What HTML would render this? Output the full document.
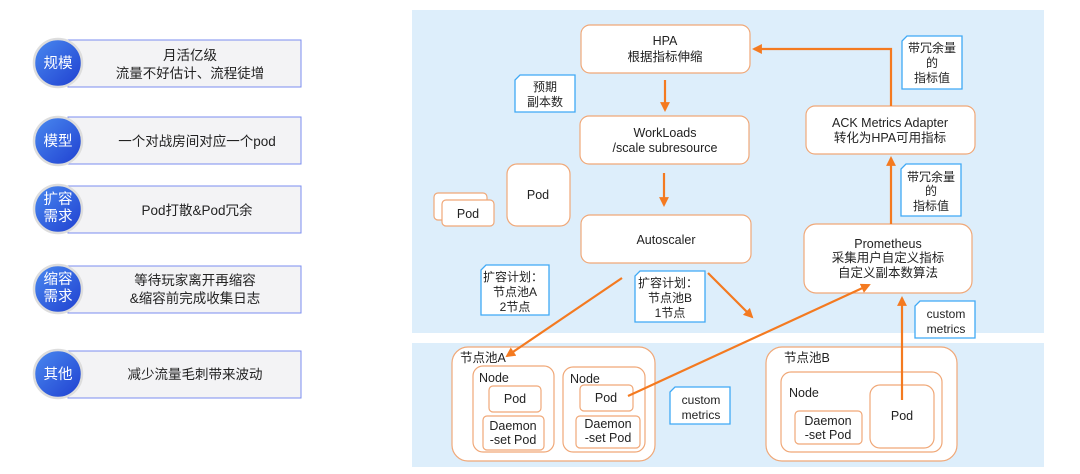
<!DOCTYPE html>
<html><head><meta charset="utf-8"><style>
html,body{margin:0;padding:0;background:#fff;width:1080px;height:474px;overflow:hidden}
svg text{font-family:"Liberation Sans","Noto Sans CJK SC",sans-serif;fill:#222}
</style></head><body>
<svg width="1080" height="474" viewBox="0 0 1080 474" xmlns="http://www.w3.org/2000/svg">
<defs>
<linearGradient id="cg" x1="0" y1="0" x2="1" y2="1"><stop offset="0" stop-color="#4a8af0"/><stop offset="1" stop-color="#1f3fd0"/></linearGradient>
<marker id="ar" viewBox="0 0 10 10" refX="8" refY="5" markerWidth="4.5" markerHeight="4.5" orient="auto"><path d="M0,0 L10,5 L0,10 z" fill="#f47a20"/></marker>
</defs>
<g font-size="13.5" text-anchor="middle">
<rect x="68" y="40" width="233" height="47" fill="#f3f3f5" stroke="#7b8ef0" stroke-width="1"/>
<text x="190" y="60">月活亿级</text><text x="190" y="78">流量不好估计、流程徒增</text>
<rect x="68" y="117" width="233" height="47" fill="#f3f3f5" stroke="#7b8ef0"/>
<text x="197" y="146">一个对战房间对应一个pod</text>
<rect x="68" y="186" width="233" height="47" fill="#f3f3f5" stroke="#7b8ef0"/>
<text x="197" y="215">Pod打散&amp;Pod冗余</text>
<rect x="68" y="266" width="233" height="47" fill="#f3f3f5" stroke="#7b8ef0"/>
<text x="195" y="285">等待玩家离开再缩容</text><text x="195" y="303">&amp;缩容前完成收集日志</text>
<rect x="68" y="351" width="233" height="47" fill="#f3f3f5" stroke="#7b8ef0"/>
<text x="195" y="379">减少流量毛刺带来波动</text>
</g>
<g font-size="14.5" text-anchor="middle">
<circle cx="58" cy="63" r="24" fill="url(#cg)" stroke="#ddd" stroke-width="2.5"/><text x="58" y="68" style="fill:#fff">规模</text>
<circle cx="58" cy="141" r="24" fill="url(#cg)" stroke="#ddd" stroke-width="2.5"/><text x="58" y="146" style="fill:#fff">模型</text>
<circle cx="58" cy="209" r="24" fill="url(#cg)" stroke="#ddd" stroke-width="2.5"/><text x="58" y="204" style="fill:#fff">扩容</text><text x="58" y="221" style="fill:#fff">需求</text>
<circle cx="58" cy="289" r="24" fill="url(#cg)" stroke="#ddd" stroke-width="2.5"/><text x="58" y="284" style="fill:#fff">缩容</text><text x="58" y="301" style="fill:#fff">需求</text>
<circle cx="58" cy="374" r="24" fill="url(#cg)" stroke="#ddd" stroke-width="2.5"/><text x="58" y="379" style="fill:#fff">其他</text>
</g>
<rect x="412" y="10" width="632" height="323" fill="#ddeefb"/>
<rect x="412" y="343" width="632" height="124" fill="#ddeefb"/>
<g fill="#fff" stroke="#f0a878" stroke-width="1.2">
<rect x="581" y="25" width="169" height="48" rx="9"/>
<rect x="580" y="116" width="169" height="48" rx="9"/>
<rect x="581" y="215" width="170" height="48" rx="9"/>
<rect x="507" y="164" width="63" height="62" rx="10"/>
<rect x="434" y="193" width="53" height="27" rx="4"/>
<rect x="442" y="200" width="52" height="26" rx="4"/>
<rect x="806" y="106" width="169" height="48" rx="9"/>
<rect x="804" y="224" width="168" height="69" rx="12"/>
<rect x="452" y="347" width="203" height="114" rx="16"/>
<rect x="473" y="366" width="81" height="86" rx="10"/>
<rect x="489" y="386" width="52" height="26" rx="4"/>
<rect x="483" y="416" width="61" height="34" rx="4"/>
<rect x="563" y="367" width="82" height="85" rx="10"/>
<rect x="580" y="385" width="53" height="26" rx="4"/>
<rect x="576" y="416" width="64" height="32" rx="4"/>
<rect x="766" y="347" width="191" height="114" rx="16"/>
<rect x="781" y="372" width="161" height="80" rx="10"/>
<rect x="795" y="411" width="67" height="33" rx="4"/>
<rect x="870" y="385" width="64" height="63" rx="10"/>
</g>
<g font-size="12.5" text-anchor="middle">
<text x="665" y="45">HPA</text><text x="665" y="61">根据指标伸缩</text>
<text x="665" y="137">WorkLoads</text><text x="665" y="152">/scale subresource</text>
<text x="666" y="244">Autoscaler</text>
<text x="538" y="199">Pod</text>
<text x="468" y="218">Pod</text>
<text x="890" y="127">ACK Metrics Adapter</text><text x="890" y="142">转化为HPA可用指标</text>
<text x="888" y="248">Prometheus</text><text x="888" y="262">采集用户自定义指标</text><text x="888" y="277">自定义副本数算法</text>
<text x="515" y="403">Pod</text>
<text x="513" y="430">Daemon</text><text x="513" y="444">-set Pod</text>
<text x="606" y="402">Pod</text>
<text x="608" y="428">Daemon</text><text x="608" y="442">-set Pod</text>
<text x="828" y="425">Daemon</text><text x="828" y="439">-set Pod</text>
<text x="902" y="420">Pod</text>
</g>
<g font-size="12.5">
<text x="460" y="362">节点池A</text>
<text x="479" y="382">Node</text>
<text x="570" y="383">Node</text>
<text x="784" y="362">节点池B</text>
<text x="789" y="397">Node</text>
</g>
<g fill="#fff" stroke="#3fa9f5" stroke-width="1.3">
<path d="M520,75 H575 V112 H515 V80 Z"/>
<path d="M907,36 H962 V89 H902 V41 Z"/>
<path d="M906,164 H961 V216 H901 V169 Z"/>
<path d="M920,301 H975 V338 H915 V306 Z"/>
<path d="M486,265 H549 V315 H481 V270 Z"/>
<path d="M640,271 H705 V322 H635 V276 Z"/>
<path d="M675,387 H730 V424 H670 V392 Z"/>
</g>
<g font-size="12" text-anchor="middle">
<text x="545" y="91">预期</text><text x="545" y="106">副本数</text>
<text x="932" y="52">带冗余量</text><text x="932" y="67">的</text><text x="932" y="82">指标值</text>
<text x="931" y="181">带冗余量</text><text x="931" y="195">的</text><text x="931" y="210">指标值</text>
<text x="946" y="318">custom</text><text x="946" y="333">metrics</text>
<text x="513" y="281">扩容计划：</text><text x="515" y="296">节点池A</text><text x="515" y="311">2节点</text>
<text x="668" y="287">扩容计划：</text><text x="670" y="302">节点池B</text><text x="670" y="317">1节点</text>
<text x="701" y="404">custom</text><text x="701" y="419">metrics</text>
</g>
<g stroke="#f47a20" stroke-width="2.2" fill="none" marker-end="url(#ar)">
<line x1="665" y1="80" x2="665" y2="110"/>
<line x1="664" y1="173" x2="664" y2="205"/>
<polyline points="891,106 891,49 754,49"/>
<line x1="891" y1="224" x2="891" y2="158"/>
<line x1="622" y1="278" x2="507" y2="356"/>
<line x1="708" y1="273" x2="752" y2="317"/>
<line x1="628" y1="396" x2="869" y2="285"/>
<line x1="902" y1="400" x2="902" y2="298"/>
</g>
</svg>
</body></html>
